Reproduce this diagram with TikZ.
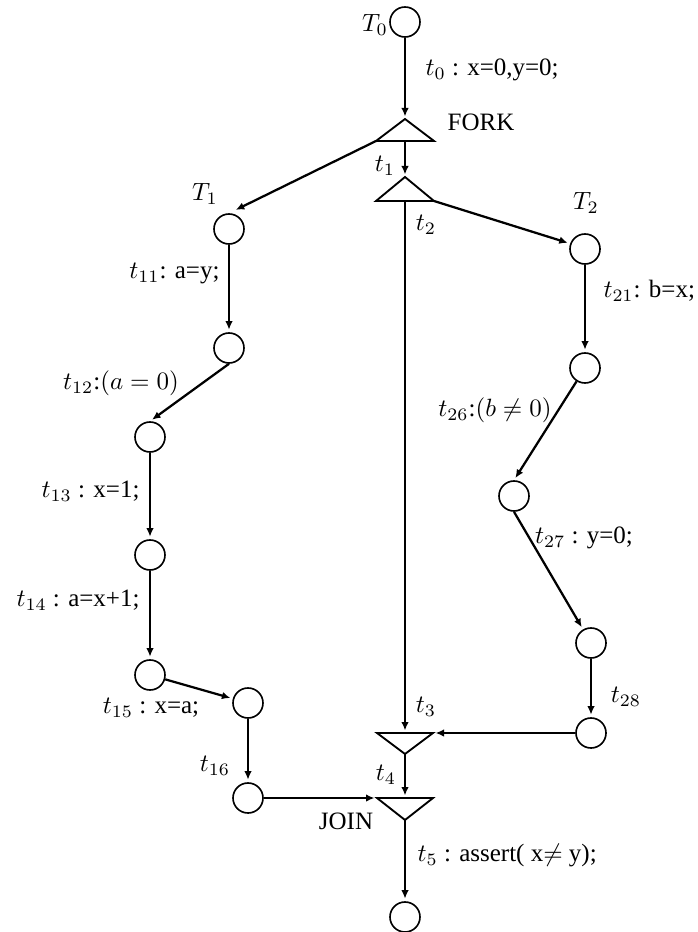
\documentclass[tikz,border=0pt]{standalone}
\usepackage{fontspec}
\setmainfont{Liberation Serif}
\usetikzlibrary{arrows.meta}
\begin{document}
\begin{tikzpicture}[x=0.4pt,y=-0.4pt,
  state/.style={circle,draw,line width=0.65pt,minimum size=12pt,inner sep=0pt},
  edge/.style={line width=0.9pt,-{Latex[length=3.4pt,width=3pt]},shorten >=1pt},
  tri/.style={draw,line width=0.75pt,line join=miter},
  lbl/.style={inner sep=0pt,font=\fontsize{10}{12}\selectfont}]
\useasboundingbox (0,0) rectangle (698,932);

% triangles (fork / join)
\coordinate (fork-apex) at (405,119);
\coordinate (fork-l) at (376,141);
\coordinate (fork-r) at (434,141);
\coordinate (fork-base) at (405,141);
\draw[tri] (fork-apex) -- (fork-r) -- (fork-l) -- cycle;

\coordinate (t1-apex) at (405,177);
\coordinate (t1-l) at (376,201);
\coordinate (t1-r) at (434,201);
\coordinate (t1-base) at (405,201);
\draw[tri] (t1-apex) -- (t1-r) -- (t1-l) -- cycle;

\coordinate (t3-top) at (405,733);
\coordinate (t3-l) at (377,733);
\coordinate (t3-r) at (433,733);
\coordinate (t3-apex) at (405,754);
\draw[tri] (t3-l) -- (t3-r) -- (t3-apex) -- cycle;

\coordinate (join-top) at (405,798);
\coordinate (join-l) at (377,798);
\coordinate (join-r) at (433,798);
\coordinate (join-apex) at (405,820);
\draw[tri] (join-l) -- (join-r) -- (join-apex) -- cycle;

% states
\node[state] (T0) at (405,22) {};
\node[state] (c11) at (229,229) {};
\node[state] (c12) at (229,348) {};
\node[state] (c13) at (150,437) {};
\node[state] (c14) at (150,555) {};
\node[state] (c15) at (150,675) {};
\node[state] (c16) at (248,703) {};
\node[state] (c17) at (248,798) {};
\node[state] (c21) at (585,249) {};
\node[state] (c22) at (585,368) {};
\node[state] (c23) at (514,496) {};
\node[state] (c24) at (591,643) {};
\node[state] (c25) at (591,733) {};
\node[state] (end) at (405,917) {};

% edges
\draw[edge] (T0) -- (fork-apex);
\draw[edge] (fork-base) -- (t1-apex);
\draw[edge,shorten >=3pt] (fork-l) -- (c11.north);
\draw[edge] (t1-r) -- (c21.160);
\draw[edge] (t1-base) -- (t3-top);
\draw[edge] (c11) -- (c12);
\draw[edge] (c12.south) -- (c13.north);
\draw[edge] (c13) -- (c14);
\draw[edge] (c14) -- (c15);
\draw[edge] (c15) -- (c16);
\draw[edge] (c16) -- (c17);
\draw[edge] (c17) -- (join-l);
\draw[edge] (c21) -- (c22);
\draw[edge] (c22) -- (c23.north);
\draw[edge] (c23.south) -- (c24);
\draw[edge] (c24) -- (c25);
\draw[edge] (c25) -- (t3-r);
\draw[edge] (t3-apex) -- (join-top);
\draw[edge] (join-apex) -- (end);

% labels
\node[lbl] (lT0) at (375,25) {$T_0$};
\node[lbl,anchor=west] (lt0) at (425,70) {$t_0$ : x=0,y=0;};
\node[lbl] (lfork) at (481,122) {FORK};
\node[lbl] (lt1) at (385,166) {$t_1$};
\node[lbl] (lt2) at (426,225) {$t_2$};
\node[lbl] (lT1) at (205,194) {$T_1$};
\node[lbl] (lT2) at (586,203) {$T_2$};
\node[lbl,anchor=east] (lt11) at (220,274) {$t_{11}$: a=y;};
\node[lbl] (lt12) at (121,383) {$t_{12}$:$(a=0)$};
\node[lbl,anchor=east] (lt13) at (140,491) {$t_{13}$ : x=1;};
\node[lbl,anchor=east] (lt14) at (140,600) {$t_{14}$ : a=x+1;};
\node[lbl] (lt15) at (151,708) {$t_{15}$ : x=a;};
\node[lbl] (lt16) at (215,766) {$t_{16}$};
\node[lbl] (ljoin) at (346,821) {JOIN};
\node[lbl] (lt3) at (426,707) {$t_3$};
\node[lbl] (lt4) at (386,775) {$t_4$};
\node[lbl,anchor=west] (lt5) at (417,856) {$t_5$ : assert( x$\neq$ y);};
\node[lbl,anchor=west] (lt21) at (603,291) {$t_{21}$: b=x;};
\node[lbl] (lt26) at (495,410) {$t_{26}$:$(b\neq 0)$};
\node[lbl] (lt27) at (584,538) {$t_{27}$ : y=0;};
\node[lbl] (lt28) at (626,697) {$t_{28}$};
\end{tikzpicture}
\end{document}
